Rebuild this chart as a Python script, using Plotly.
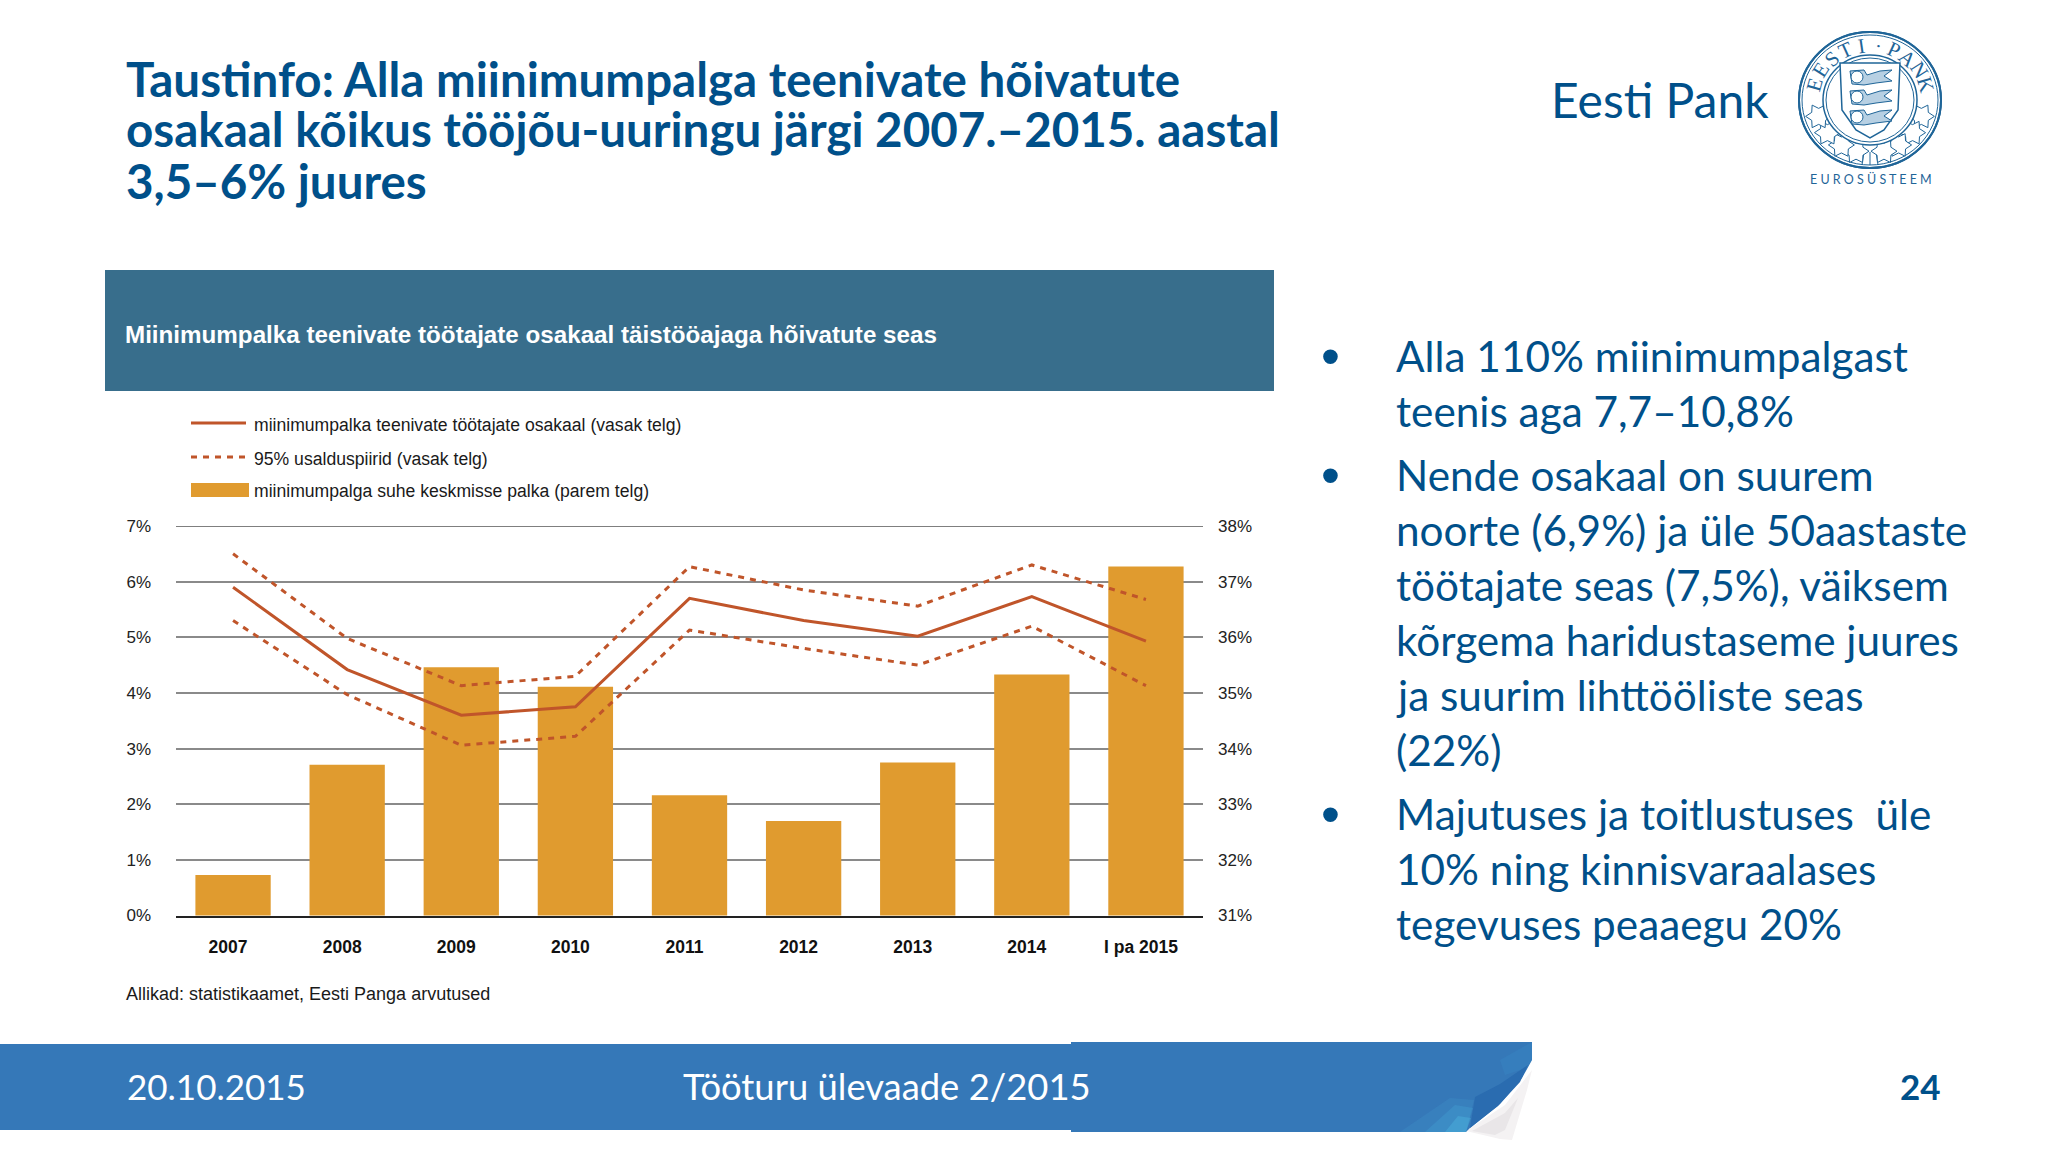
import math
import plotly.graph_objects as go

categories = ["2007", "2008", "2009", "2010", "2011", "2012", "2013", "2014", "I pa 2015"]
share_main = [5.9, 4.42, 3.6, 3.75, 5.7, 5.3, 5.02, 5.73, 4.93]
share_upper = [6.5, 4.98, 4.13, 4.3, 6.27, 5.85, 5.56, 6.3, 5.68]
share_lower = [5.3, 3.97, 3.06, 3.22, 5.13, 4.8, 4.5, 5.2, 4.13]
ratio_bars = [31.73, 33.71, 35.46, 35.11, 33.16, 32.70, 33.75, 35.33, 37.27]

left_ticks = [0, 1, 2, 3, 4, 5, 6, 7]
right_ticks = [31, 32, 33, 34, 35, 36, 37, 38]

W, H = 2048, 1152
BLUE = "#00508a"
LINE = "#c0552a"
BAR = "#e09b2f"


def X(p):
    return p / W


def Y(p):
    return 1 - p / H


fig = go.Figure()
fig.add_trace(go.Bar(x=categories, y=ratio_bars, name="miinimumpalga suhe keskmisse palka (parem telg)",
                     marker=dict(color=BAR, line=dict(width=0)), width=0.66, yaxis="y", showlegend=False))
for vals, nm, dash, w in [
    (share_main, "miinimumpalka teenivate töötajate osakaal (vasak telg)", "solid", 3),
    (share_upper, "95% usalduspiirid (vasak telg)", "6px,6px", 3),
    (share_lower, "95% usalduspiirid (vasak telg)", "6px,6px", 3),
]:
    fig.add_trace(go.Scatter(x=categories, y=vals, name=nm, mode="lines", yaxis="y2", showlegend=False,
                             line=dict(color=LINE, width=w, dash=dash)))

shapes = []
ann = []


def rect(x0, y0, x1, y1, color):
    shapes.append(dict(type="rect", xref="paper", yref="paper", x0=X(x0), x1=X(x1), y0=Y(y0), y1=Y(y1),
                       fillcolor=color, line=dict(width=0), layer="below"))


def seg(x0, y0, x1, y1, color, w, dash="solid"):
    shapes.append(dict(type="line", xref="paper", yref="paper", x0=X(x0), x1=X(x1), y0=Y(y0), y1=Y(y1),
                       line=dict(color=color, width=w, dash=dash), layer="below"))


def path(points, fill, line=None, lw=0, layer="above", close=True):
    d = "M " + " L ".join(f"{X(a):.5f},{Y(b):.5f}" for a, b in points) + (" Z" if close else "")
    shapes.append(dict(type="path", xref="paper", yref="paper", path=d, fillcolor=fill,
                       line=dict(color=line or fill, width=lw), layer=layer))


def ellipse(cx, cy, rx, ry, color, w, fill="rgba(0,0,0,0)"):
    shapes.append(dict(type="circle", xref="paper", yref="paper", x0=X(cx - rx), x1=X(cx + rx),
                       y0=Y(cy + ry), y1=Y(cy - ry), fillcolor=fill, line=dict(color=color, width=w),
                       layer="above"))


def text(x, y, s, size, color, family="Lato", bold=False, anchor="left", angle=0):
    ann.append(dict(xref="paper", yref="paper", x=X(x), y=Y(y), text=f"<b>{s}</b>" if bold else s,
                    showarrow=False, xanchor=anchor, yanchor="middle", textangle=angle,
                    font=dict(family=family, size=size, color=color), align="left"))


# title
for i, t in enumerate(["Taustinfo: Alla miinimumpalga teenivate hõivatute",
                       "osakaal kõikus tööjõu-uuringu järgi 2007.–2015. aastal",
                       "3,5–6% juures"]):
    text(124, 78 + i * 51, t, 47.5, BLUE, bold=True)

# banner
rect(105, 270, 1274, 391, "#386e8c")
text(123, 334.5, "Miinimumpalka teenivate töötajate osakaal täistööajaga hõivatute seas", 24.2, "#ffffff",
     family="Liberation Sans", bold=True)

# legend
seg(191, 423, 246, 423, LINE, 2.8)
seg(191, 457, 246, 457, LINE, 3, "6px,6px")
rect(191, 483, 249, 497, BAR)
for yy, s in [(425, "miinimumpalka teenivate töötajate osakaal (vasak telg)"),
              (459, "95% usalduspiirid (vasak telg)"),
              (491, "miinimumpalga suhe keskmisse palka (parem telg)")]:
    text(251.5, yy, s, 17.6, "#1a1a1a", family="Liberation Sans")

# source
text(124, 994, "Allikad: statistikaamet, Eesti Panga arvutused", 18, "#1a1a1a", family="Liberation Sans")

# bullets
lines = [(355.5, "Alla 110% miinimumpalgast", True), (410.5, "teenis aga 7,7–10,8%", False),
         (474.5, "Nende osakaal on suurem", True), (529.5, "noorte (6,9%) ja üle 50aastaste", False),
         (584.5, "töötajate seas (7,5%), väiksem", False), (639.5, "kõrgema haridustaseme juures", False),
         (694.5, "ja suurim lihttööliste seas", False), (749.5, "(22%)", False),
         (813.5, "Majutuses ja toitlustuses  üle", True), (868.5, "10% ning kinnisvaraalases", False),
         (923.5, "tegevuses peaaegu 20%", False)]
for yy, s, b in lines:
    text(1394, yy, s, 42.3, BLUE)
    if b:
        text(1330, yy, "•", 54, BLUE, family="Liberation Sans", anchor="center")

# footer band with curled corner
path([(1466, 1131), (1500, 1139), (1512, 1140), (1527, 1090), (1532, 1070), (1505, 1105)], "#f4f2f3", layer="below")
path([(1472, 1131), (1495, 1135), (1505, 1130), (1518, 1098), (1505, 1113)], "#e9e6e8", layer="below")
rect(0, 1044, 1072, 1130, "#3578b8")
path([(1071, 1042), (1532, 1042), (1532, 1060), (1522, 1078), (1500, 1104), (1470, 1128), (1466, 1132), (1071, 1132)],
     "#3578b8", layer="below")
path([(1400, 1132), (1466, 1132), (1474, 1100), (1450, 1098)], "rgba(70,165,215,0.18)")
path([(1425, 1132), (1466, 1132), (1473, 1108), (1455, 1105)], "rgba(70,175,225,0.25)")
path([(1445, 1132), (1466, 1132), (1471, 1118), (1458, 1116)], "rgba(80,190,230,0.35)")
path([(1500, 1060), (1532, 1042), (1532, 1060), (1527, 1068), (1505, 1075)], "rgba(60,150,210,0.2)")
path([(1475, 1097), (1500, 1084), (1528, 1065), (1520, 1082), (1498, 1106), (1470, 1128)], "#2a6cb0")
text(125, 1086, "20.10.2015", 35, "#ffffff")
text(681, 1086, "Tööturu ülevaade 2/2015", 36.4, "#ffffff")
text(1898, 1086, "24", 35, BLUE, bold=True)

# logo
text(1549, 99, "Eesti Pank", 48, BLUE, family="Lato")
cx, cy, RX, RY = 1870, 100, 71, 68
LOGO = "#1f6598"
ellipse(cx, cy, RX, RY, LOGO, 2)
ellipse(cx, cy, RX - 3, RY - 3, LOGO, 1)
# wreath of lobed leaves behind the inner ring
for a in (108, 128, 148, 165, 195, 212, 232, 252):
    ra = math.radians(a)
    lx, ly = cx + 54 * math.sin(ra), cy - 53 * math.cos(ra)
    lobes = []
    for k in range(12):
        rr = 13 if k % 2 == 0 else 8
        t = 2 * math.pi * k / 12
        lobes.append((lx + rr * math.cos(t), ly + rr * math.sin(t)))
    path(lobes, "#ffffff", LOGO, 1)
ellipse(cx, cy, RX, RY, LOGO, 2)
ellipse(cx, cy, 47, 45, LOGO, 1.5, fill="#ffffff")
ellipse(cx, cy, 44, 42, LOGO, 1)
label = "EESTI·PANK"
for i, ch in enumerate(label):
    a = -74 + i * (148 / (len(label) - 1))
    rx, ry = RX - 13, RY - 13
    text(cx + rx * math.sin(math.radians(a)), cy - ry * math.cos(math.radians(a)), ch, 21, LOGO,
         family="Liberation Serif", anchor="center", angle=a)
for k in range(-7, 8):
    for side in (-1, 1):
        a = math.radians(k * 7)
        seg(cx + side * 28 * math.cos(a), cy + 28 * math.sin(a) - 2,
            cx + side * 43 * math.cos(a), cy + 42 * math.sin(a) - 2, "#6f9cbf", 1)
shield = [(cx - 30, cy - 37), (cx + 30, cy - 37), (cx + 28, cy + 10), (cx + 14, cy + 30), (cx, cy + 38),
          (cx - 14, cy + 30), (cx - 28, cy + 10)]
path(shield, "#ffffff", LOGO, 1.5)
for dy in [-22, -2, 18]:
    path([(cx - 20, cy + dy - 7), (cx - 6, cy + dy - 8), (cx - 3, cy + dy - 3), (cx + 10, cy + dy - 7),
          (cx + 22, cy + dy - 8), (cx + 14, cy + dy - 2), (cx + 22, cy + dy + 3), (cx + 6, cy + dy + 5),
          (cx - 6, cy + dy + 7), (cx - 18, cy + dy + 6)], "#b7d0e3", LOGO, 1)
    ellipse(cx - 13, cy + dy - 1, 6, 6, LOGO, 1, fill="#ffffff")
seg(cx - 6, 152, cx - 8, 165, LOGO, 1)
seg(cx, 152, cx, 165, LOGO, 1)
seg(cx + 6, 152, cx + 8, 165, LOGO, 1)
text(cx + 1, 179, "E U R O S Ü S T E E M", 12.5, LOGO, family="Lato", anchor="center")

# top rule of the plot, at the axis maximum
shapes.append(dict(type="line", xref="paper", yref="y", x0=X(176), x1=X(1203), y0=right_ticks[-1], y1=right_ticks[-1],
                   line=dict(color="#555555", width=1.4), layer="below"))

fig.update_layout(
    width=W, height=H, autosize=False,
    margin=dict(l=0, r=0, t=0, b=0, pad=0, autoexpand=False),
    paper_bgcolor="#ffffff", plot_bgcolor="rgba(0,0,0,0)",
    showlegend=False, bargap=0.34,
    shapes=shapes, annotations=ann,
    xaxis=dict(domain=[X(176), X(1203)], type="category", categoryorder="array", categoryarray=categories,
               showgrid=False, showline=True, linecolor="#222222", linewidth=2, ticks="",
               ticklabelshift=-5, ticklabelstandoff=14,
               tickfont=dict(family="Liberation Sans", size=17.5, color="#111111", weight="bold"),
               anchor="y"),
    yaxis=dict(domain=[Y(915.5), Y(526)], range=[31, 38], tickvals=right_ticks,
               ticktext=[f"{v}%" for v in right_ticks],
               side="right", anchor="x", showgrid=True, gridcolor="#8a8a8a", gridwidth=1.6, zeroline=False,
               showline=False, ticks="", ticklabelstandoff=14,
               tickfont=dict(family="Liberation Sans", size=17, color="#222222")),
    yaxis2=dict(domain=[Y(915.5), Y(526)], range=[0, 7], tickvals=left_ticks,
                ticktext=[f"{v}%" for v in left_ticks],
                side="left", overlaying="y", anchor="x", showgrid=False, zeroline=False,
                showline=False, ticks="", ticklabelstandoff=24,
                tickfont=dict(family="Liberation Sans", size=17, color="#222222")),
)

fig.write_html("out.html", config={"displayModeBar": False}, post_script="document.body.style.margin='0';")
